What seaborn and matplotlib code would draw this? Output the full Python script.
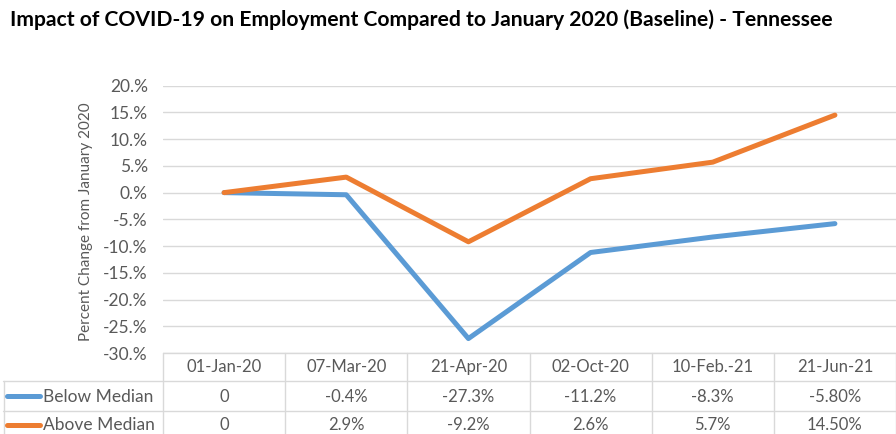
import matplotlib
matplotlib.use("Agg")
import matplotlib.pyplot as plt
import matplotlib.transforms as mtransforms
from matplotlib.ticker import FuncFormatter, MultipleLocator
from matplotlib.lines import Line2D
import seaborn as sns
import pandas as pd

# ---- data ----
dates = ["01-Jan-20", "07-Mar-20", "21-Apr-20", "02-Oct-20", "10-Feb.-21", "21-Jun-21"]
below = [0.0, -0.4, -27.3, -11.2, -8.3, -5.8]
above = [0.0, 2.9, -9.2, 2.6, 5.7, 14.5]
below_labels = ["0", "-0.4%", "-27.3%", "-11.2%", "-8.3%", "-5.80%"]
above_labels = ["0", "2.9%", "-9.2%", "2.6%", "5.7%", "14.50%"]
series_names = ["Below Median", "Above Median"]
colors = ["#5B9BD5", "#ED7D31"]
title = "Impact of COVID-19 on Employment Compared to January 2020 (Baseline) - Tennessee"
ylabel = "Percent Change from January 2020"

sns.set_theme(style="white")
plt.rcParams['font.family'] = ['Lato', 'DejaVu Sans']

W, H = 896, 434
fig = plt.figure(figsize=(W / 100, H / 100), dpi=100)


def fx(px):
    return px / W


def fy(py):
    return 1 - py / H


text_color = "#595959"
grid_color = "#D9D9D9"

ax = fig.add_axes([fx(163), fy(353), fx(896) - fx(163), fy(85.7) - fy(353)])
n = len(dates)
df = pd.DataFrame({
    "pos": list(range(n)) * 2,
    "value": below + above,
    "series": [series_names[0]] * n + [series_names[1]] * n,
})
sns.lineplot(data=df, x="pos", y="value", hue="series", hue_order=series_names,
             palette=colors, linewidth=3.6, ax=ax, legend=False,
             solid_capstyle="round", solid_joinstyle="round")

ax.set_xlim(-0.5, n - 0.5)
ax.set_ylim(-30, 20)
ax.yaxis.set_major_locator(MultipleLocator(5))
ax.yaxis.set_major_formatter(FuncFormatter(lambda v, p: f"{v:.0f}.%"))
ax.set_xticks([])
ax.set_xlabel("")
ax.grid(axis="y", color=grid_color, linewidth=1.0)
ax.set_axisbelow(True)
for s in ax.spines.values():
    s.set_visible(False)
ax.tick_params(axis="y", length=0, pad=11, labelsize=12.5, labelcolor=text_color)
ax.set_ylabel(ylabel, fontsize=11, color=text_color)
ax.yaxis.set_label_coords((93 - 163) / 733, 0.49)

fig.text(fx(10), fy(20), title, fontsize=15.2, fontweight="bold", color="black",
         ha="left", va="center")

# ---- data table ----
bt = mtransforms.blended_transform_factory(ax.transData, fig.transFigure)
lw = 1.0
fig.add_artist(Line2D([fx(163), 1], [fy(353), fy(353)], transform=fig.transFigure,
                      color=grid_color, lw=lw))
for yy in (381, 411):
    fig.add_artist(Line2D([fx(3), 1], [fy(yy), fy(yy)], transform=fig.transFigure,
                          color=grid_color, lw=lw))
for i in range(n + 1):
    fig.add_artist(Line2D([i - 0.5, i - 0.5], [fy(353), 0], transform=bt,
                          color=grid_color, lw=lw, clip_on=False))
fig.add_artist(Line2D([fx(3.5), fx(3.5)], [fy(381), 0], transform=fig.transFigure,
                      color=grid_color, lw=lw))

fs = 12
for i, d in enumerate(dates):
    fig.text(i, fy(367), d, transform=bt, ha="center", va="center",
             fontsize=fs, color=text_color)
rows = [(below_labels, 396.5), (above_labels, 425.5)]
for k, (labels, yy) in enumerate(rows):
    for i, lab in enumerate(labels):
        fig.text(i, fy(yy), lab, transform=bt, ha="center", va="center",
                 fontsize=fs, color=text_color)
    fig.add_artist(Line2D([fx(7), fx(40)], [fy(yy - 1), fy(yy - 1)], transform=fig.transFigure,
                          color=colors[k], lw=3.6, solid_capstyle="round"))
    fig.text(fx(43), fy(yy), series_names[k], ha="left", va="center",
             fontsize=12.5, color=text_color)

fig.savefig("out.png", dpi=100)
